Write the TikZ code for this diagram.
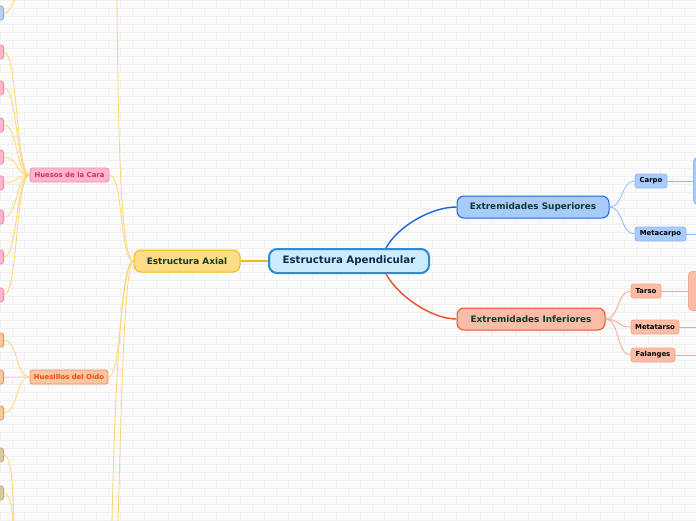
\documentclass[tikz,border=0pt]{standalone}
\usepackage{fontspec}
\setmainfont{DejaVu Sans}
\usepackage{tikz}
\usetikzlibrary{positioning, arrows.meta}
\definecolor{paper}{HTML}{FBFBFB}
\definecolor{mortar}{HTML}{F0F0F0}
\definecolor{apfill}{HTML}{CCEBFC}
\definecolor{apline}{HTML}{2F8AD0}
\definecolor{aptext}{HTML}{13284F}
\definecolor{axfill}{HTML}{FFDC86}
\definecolor{axline}{HTML}{F5B914}
\definecolor{axwire}{HTML}{FFD66E}
\definecolor{deeptext}{HTML}{0E3B2C}
\definecolor{supfill}{HTML}{A7CBFA}
\definecolor{supline}{HTML}{1E66D6}
\definecolor{supwire}{HTML}{93BAF2}
\definecolor{inffill}{HTML}{F9BCA6}
\definecolor{infline}{HTML}{EA5128}
\definecolor{infwire}{HTML}{F7A88C}
\definecolor{carafill}{HTML}{FFB6CD}
\definecolor{caraline}{HTML}{EE8DAE}
\definecolor{caratext}{HTML}{CC2F6C}
\definecolor{oidofill}{HTML}{F9C69E}
\definecolor{oidoline}{HTML}{EE9062}
\definecolor{oidotext}{HTML}{EE4612}
\definecolor{tanfill}{HTML}{D8C9A2}
\definecolor{tanline}{HTML}{C4AE7E}
\definecolor{topfill}{HTML}{B9D0EC}
\definecolor{topline}{HTML}{92B1D9}

\begin{document}
\begin{tikzpicture}[x=1pt, y=-1pt,
    every node/.style={inner sep=0pt, align=center},
    topic/.style={rounded corners=7pt, line width=1pt,
      font=\bfseries\fontsize{8.9}{10}\selectfont, text=deeptext},
    leaf/.style={rounded corners=2.5pt, line width=0.8pt,
      font=\bfseries\fontsize{6.9}{8}\selectfont, minimum height=14pt},
    stub/.style={rounded corners=2.5pt, line width=0.8pt,
      minimum width=40pt, minimum height=14pt, anchor=east},
    wire/.style={line width=0.8pt}]
  % background
  \useasboundingbox (0,0) rectangle (696,520);
  \fill[paper] (0,0) rectangle (696,520);
  \foreach \r in {0,...,65} {
    \draw[mortar, line width=0.6pt] (0,\r*8) -- (696,\r*8);
    \foreach \c in {0,...,29}
      \draw[mortar, line width=0.6pt] ({\c*24+mod(\r,2)*12},\r*8) -- ++(0,8);
  }
  \clip (0,0) rectangle (696,520);

  % main nodes
  \node[topic, fill=apfill, draw=apline, line width=2pt, rounded corners=8pt,
        text=aptext, font=\bfseries\fontsize{10.2}{12}\selectfont,
        minimum width=160pt, minimum height=24pt] (apend) at (349,261) {Estructura Apendicular};
  \node[topic, fill=axfill, draw=axline, minimum width=106pt, minimum height=22pt]
        (axial) at (187,261) {Estructura Axial};
  \node[topic, fill=supfill, draw=supline, minimum width=152pt, minimum height=22pt]
        (sup) at (533,207) {Extremidades Superiores};
  \node[topic, fill=inffill, draw=infline, minimum width=148pt, minimum height=22pt]
        (inf) at (531,319) {Extremidades Inferiores};

  % upper limb
  \node[leaf, fill=supfill, draw=supwire, minimum width=32pt] (carpo) at (651,181) {Carpo};
  \node[leaf, fill=supfill, draw=supwire, minimum width=51pt] (metacarpo) at (660.5,234) {Metacarpo};
  \node[stub, fill=supfill, draw=supwire, anchor=west, minimum width=60pt,
        minimum height=48pt, rounded corners=5pt] (carpoinfo) at (693,181) {};

  % lower limb
  \node[leaf, fill=inffill, draw=infwire, minimum width=30pt] (tarso) at (646,291) {Tarso};
  \node[leaf, fill=inffill, draw=infwire, minimum width=48pt] (metatarso) at (655,327) {Metatarso};
  \node[leaf, fill=inffill, draw=infwire, minimum width=44pt] (falanges) at (653,355) {Falanges};
  \node[stub, fill=inffill, draw=infwire, anchor=north west, minimum width=60pt,
        minimum height=39pt, rounded corners=4pt, inner xsep=3pt, inner ysep=4pt,
        align=left, font=\fontsize{7}{8.4}\selectfont] (tarsoinfo) at (688,271) {E\\h\\c\\ta};
  \coordinate (metatarsoend) at (700,327);
  \coordinate (falangesend) at (700,355);
  \coordinate (metacarpoend) at (700,234);

  % axial side
  \node[leaf, fill=carafill, draw=caraline, text=caratext, minimum width=79pt]
        (cara) at (69.5,175) {Huesos de la Cara};
  \node[leaf, fill=oidofill, draw=oidoline, text=oidotext, minimum width=78pt]
        (oido) at (69,377) {Huesillos del Oído};
  \foreach \y [count=\i] in {52,88,125,157,183,217,257,295}
    \node[stub, fill=carafill, draw=caraline] (cara\i) at (4,\y) {};
  \foreach \y [count=\i] in {340,377,413}
    \node[stub, fill=oidofill, draw=oidoline] (oido\i) at (4,\y) {};
  \foreach \y [count=\i] in {455,493}
    \node[stub, fill=tanfill, draw=tanline] (tan\i) at (4,\y) {};
  \node[stub, fill=topfill, draw=topline] (topleaf) at (4,13) {};
  \coordinate (axtop) at (117,-4);
  \coordinate (axlowa) at (112,524);
  \coordinate (axlowb) at (118,524);
  \coordinate (tanparent) at (24,600);
  \coordinate (topparent) at (32,-40);

  % connectors
  \draw[supline, line width=1.4pt] ([xshift=37pt]apend.north)
    .. controls +(12,-22) and +(-25,0) .. (sup.west);
  \draw[infline, line width=1.4pt] ([xshift=37pt]apend.south)
    .. controls +(12,22) and +(-25,0) .. (inf.west);
  \draw[axline, line width=1.2pt] (apend.west) -- (axial.east);

  \foreach \n in {carpo, metacarpo}
    \draw[supwire, wire] (sup.east) .. controls +(14,0) and +(-14,0) .. (\n.west);
  \foreach \n in {tarso, metatarso, falanges}
    \draw[infwire, wire] (inf.east) .. controls +(14,0) and +(-14,0) .. (\n.west);
  \draw[supwire, wire] (carpo.east) -- (carpoinfo.west);
  \draw[supwire, wire] (metacarpo.east) -- (metacarpoend);
  \draw[infwire, wire] (tarso.east) -- (tarsoinfo.west |- tarso.east);
  \draw[infwire, wire] (metatarso.east) -- (metatarsoend);
  \draw[infwire, wire] (falanges.east) -- (falangesend);

  \draw[axwire, wire] (axial.west) .. controls +(-14,0) and +(14,0) .. (cara.east);
  \draw[axwire, wire] (axial.west) .. controls +(-14,0) and +(14,0) .. (oido.east);
  \draw[axwire, wire] (axial.west) .. controls (120,261) and (118,120) .. (axtop);
  \draw[axwire, wire] (axial.west) .. controls (120,261) and (114,420) .. (axlowa);
  \draw[axwire, wire] (axial.west) .. controls (124,261) and (121,420) .. (axlowb);
  \foreach \i in {1,...,8}
    \draw[axwire, wire] (cara\i.east) .. controls +(14,0) and +(-14,0) .. (cara.west);
  \foreach \i in {1,...,3}
    \draw[axwire, wire] (oido\i.east) .. controls +(14,0) and +(-14,0) .. (oido.west);
  \foreach \i in {1,2}
    \draw[axwire, wire] (tan\i.east) .. controls +(16,0) and +(-16,0) .. (tanparent);
  \draw[axwire, wire] (topleaf.east) .. controls +(14,0) and +(-14,0) .. (topparent);
\end{tikzpicture}
\end{document}
